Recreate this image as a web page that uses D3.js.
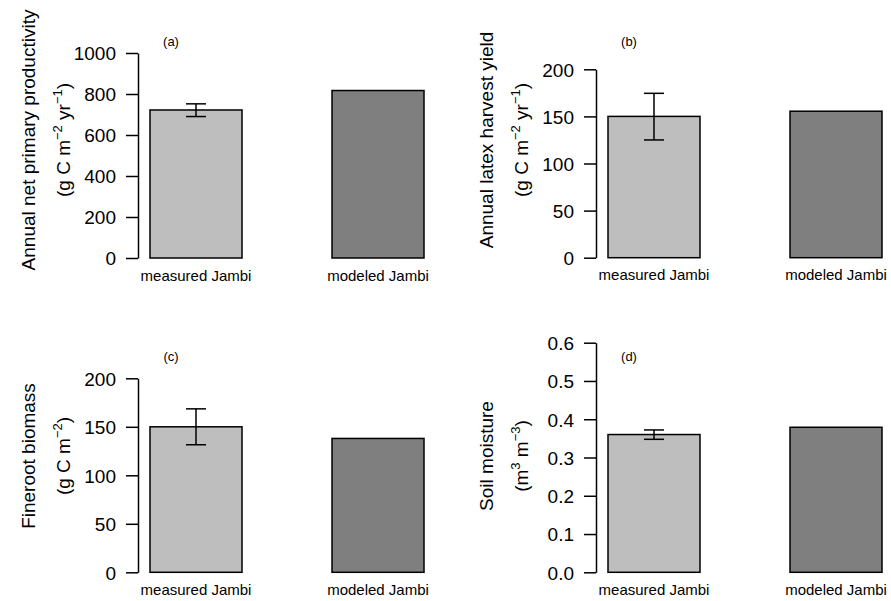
<!DOCTYPE html>
<html>
<head>
<meta charset="utf-8">
<script src="https://cdn.jsdelivr.net/npm/d3@7"></script>
<style>
    body{margin:0;background:#fff;}
    svg{font-family:"Liberation Sans",Arial,sans-serif;}
    .tick text{font-size:19px;fill:#000;}
    .tick line,.domain{stroke:#000;stroke-width:1.5;}
</style>
</head>
<body>
<script>
var w=891, h=601;
var svg=d3.select('body').append('svg').attr('width',w).attr('height',h);

// data
var categories=['measured Jambi','modeled Jambi'];

var nppValues=[722,817];
var nppErr=[690,752];          // low, high of measured
var nppTicks=[0,200,400,600,800,1000];

var latexValues=[150,155.5];
var latexErr=[125,174.5];
var latexTicks=[0,50,100,150,200];

var rootValues=[150,138];
var rootErr=[131.5,168.5];
var rootTicks=[0,50,100,150,200];

var moistValues=[0.36,0.379];
var moistErr=[0.3475,0.372];
var moistTicks=[0,0.1,0.2,0.3,0.4,0.5,0.6];

var barColors=['#bebebe','#7f7f7f'];

var panels=[
    {tag:'(a)',vals:nppValues,err:nppErr,ticks:nppTicks,fmt:d3.format('d'),
     x:138,top:53,bottom:258,lab:'Annual net primary productivity',
     unit:[['(g C m',''],['\u22122',1],[' yr',''],['\u22121',1],[')','']]},
    {tag:'(b)',vals:latexValues,err:latexErr,ticks:latexTicks,fmt:d3.format('d'),
     x:596,top:69.3,bottom:257.7,lab:'Annual latex harvest yield',
     unit:[['(g C m',''],['\u22122',1],[' yr',''],['\u22121',1],[')','']]},
    {tag:'(c)',vals:rootValues,err:rootErr,ticks:rootTicks,fmt:d3.format('d'),
     x:138,top:378.3,bottom:572.3,lab:'Fineroot biomass',
     unit:[['(g C m',''],['\u22122',1],[')','']]},
    {tag:'(d)',vals:moistValues,err:moistErr,ticks:moistTicks,fmt:d3.format('.1f'),
     x:596,top:342.7,bottom:572.3,lab:'Soil moisture',
     unit:[['(m',''],['3',1],[' m',''],['\u22123',1],[')','']]}
];

panels.forEach(function(p,i){
    var g=svg.append('g');
    var y=d3.scaleLinear().domain([0,p.ticks[p.ticks.length-1]]).range([p.bottom,p.top]);
    var x=d3.scaleBand().domain(categories).range([p.x+12,p.x+286]).paddingInner(90/182);

    // bars
    g.selectAll('rect').data(p.vals).enter().append('rect')
        .attr('x',function(d,j){return x(categories[j]);})
        .attr('y',function(d){return y(d);})
        .attr('width',x.bandwidth())
        .attr('height',function(d){return y(0)-y(d);})
        .attr('fill',function(d,j){return barColors[j];})
        .attr('stroke','#000').attr('stroke-width',1.5);

    // error bar on measured
    var cx=x(categories[0])+x.bandwidth()/2;
    g.append('line').attr('x1',cx).attr('x2',cx)
        .attr('y1',y(p.err[0])).attr('y2',y(p.err[1]))
        .attr('stroke','#000').attr('stroke-width',1.5);
    p.err.forEach(function(e){
        g.append('line').attr('x1',cx-10).attr('x2',cx+10)
            .attr('y1',y(e)).attr('y2',y(e))
            .attr('stroke','#000').attr('stroke-width',1.5);
    });

    // y axis
    g.append('g').attr('transform','translate('+p.x+',0)')
        .call(d3.axisLeft(y).tickValues(p.ticks).tickFormat(p.fmt)
            .tickSize(12).tickSizeOuter(0).tickPadding(10))
        .call(function(a){a.selectAll('text').attr('font-family',null).attr('font-size',null);});
    g.selectAll('.tick text').attr('dy','0.36em');

    // category labels
    g.selectAll('.cat').data(categories).enter().append('text')
        .attr('class','cat')
        .attr('x',function(d){return x(d)+x.bandwidth()/2;})
        .attr('y',p.bottom+22.5)
        .attr('text-anchor','middle').attr('font-size',15)
        .text(function(d){return d;});

    // panel tag
    g.append('text').attr('x',p.x+33).attr('y',p.top<100?46:361)
        .attr('text-anchor','middle').attr('font-size',13).text(p.tag);

    // y labels
    var lx=p.x-103, cy=(i<2)?140:456;
    g.append('text').attr('transform','translate('+lx+','+cy+') rotate(-90)')
        .attr('text-anchor','middle').attr('font-size',19).text(p.lab);
    var u=g.append('text').attr('transform','translate('+(lx+35)+','+cy+') rotate(-90)')
        .attr('text-anchor','middle').attr('font-size',19);
    p.unit.forEach(function(s,k){
        var t=u.append('tspan').text(s[0]);
        if(s[1]){t.attr('font-size',13).attr('dy',-8);}
        else if(k>0){t.attr('dy',8);}
    });
});
</script>
</body>
</html>
